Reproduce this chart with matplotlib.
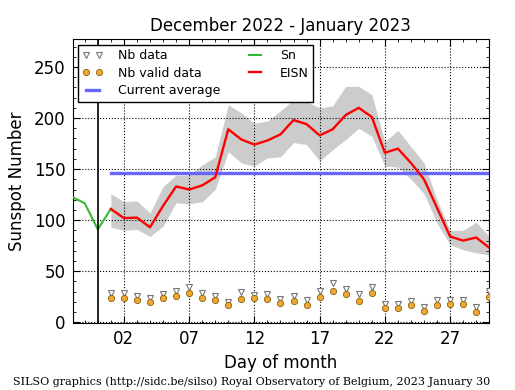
import matplotlib
matplotlib.use("Agg")
import matplotlib.pyplot as plt
from matplotlib.ticker import MultipleLocator, FixedLocator
import numpy as np

# daily values, Dec 29 2022 (-2) ... Jan 30 2023 (30)
sn_days = [-2, -1, 0, 1]
sn_vals = [123, 116.5, 91, 111]

days = list(range(1, 31))
eisn = [111, 102, 102.5, 93, 114, 133, 130, 134, 142, 189,
        179, 174, 178, 184, 198, 194, 183, 189, 203, 210,
        201, 166, 170, 156, 140, 112, 84, 80, 83, 73]
eisn_hi = [126, 118, 119, 107, 133, 144, 144, 154, 162, 213,
           205, 195, 197, 207, 218, 216, 210, 212, 231, 231,
           223, 177, 188, 172, 156, 120, 90, 90, 98, 84]
eisn_lo = [93, 90, 91, 84, 94, 117, 116, 118, 130, 167,
           156, 153, 161, 162, 176, 174, 158, 169, 179, 190,
           182, 153, 152, 140, 126, 97, 76, 71, 68, 66]
nb_data = [29, 29, 26, 24, 28, 31, 35, 29, 26, 20,
           30, 27, 28, 23, 26, 22, 31, 38, 33, 28,
           35, 18, 18, 21, 15, 22, 22, 22, 15, 31]
nb_valid = [24, 24, 22, 20, 24, 26, 29, 24, 22, 17,
            23, 24, 23, 19, 21, 17, 25, 31, 28, 21,
            29, 14, 14, 17, 11, 17, 18, 18, 10, 25]
current_avg = 146

plt.rcParams['font.family'] = 'DejaVu Sans'

fig = plt.figure(figsize=(5.15, 3.9), dpi=100)
ax = fig.add_axes([0.141, 0.171, 0.809, 0.728])

ax.fill_between(days, eisn_lo, eisn_hi, color='#cccccc', lw=0, zorder=1)
ax.plot(sn_days, sn_vals, color='#33bb33', lw=1.5, label='Sn', zorder=3)
ax.plot(days, eisn, color='red', lw=1.7, label='EISN', zorder=4)
ax.plot([days[0], days[-1]], [current_avg, current_avg], color='#6666ff', lw=2.4,
        label='Current average', zorder=2)
ax.plot(days, nb_data, linestyle='none', marker='v', ms=4.5, mfc='white',
        mec='#777777', mew=0.8, label='Nb data', zorder=5)
ax.plot(days, nb_valid, linestyle='none', marker='o', ms=4.5, mfc='#f0a830',
        mec='#8a6010', mew=0.6, label='Nb valid data', zorder=6)
ax.axvline(0, color='black', lw=1.2, zorder=3)

ax.set_xlim(-1.93, 30.0)
ax.set_ylim(-1, 277)
ax.xaxis.set_major_locator(FixedLocator([2, 7, 12, 17, 22, 27]))
ax.set_xticklabels(['02', '07', '12', '17', '22', '27'])
ax.xaxis.set_minor_locator(MultipleLocator(1))
ax.yaxis.set_major_locator(FixedLocator([0, 50, 100, 150, 200, 250]))
ax.yaxis.set_minor_locator(MultipleLocator(10))
ax.tick_params(which='both', direction='in', top=True, right=True, labelsize=12)
ax.tick_params(which='major', length=5, pad=5)
ax.tick_params(which='minor', length=2.5)
ax.grid(True, which='major', color='black', linestyle=':', lw=0.8)

ax.set_title('December 2022 - January 2023', fontsize=12)
ax.set_xlabel('Day of month', fontsize=12)
ax.set_ylabel('Sunspot Number', fontsize=12, labelpad=6)

h, l = ax.get_legend_handles_labels()
order = [l.index(n) for n in ['Nb data', 'Nb valid data', 'Current average', 'Sn', 'EISN']]
leg = ax.legend([h[i] for i in order], [l[i] for i in order], loc='upper left', ncol=2,
                numpoints=2, fontsize=9, handlelength=1.6, handletextpad=1.2,
                fancybox=False, framealpha=1, edgecolor='black', borderaxespad=0.45,
                labelspacing=0.35, borderpad=0.35, columnspacing=2.0)
leg.get_frame().set_linewidth(1)

fig.text(0.025, 0.012, 'SILSO graphics (http://sidc.be/silso) Royal Observatory of Belgium, 2023 January 30',
         family='DejaVu Serif', fontsize=8)

fig.savefig('out.png', dpi=100)
